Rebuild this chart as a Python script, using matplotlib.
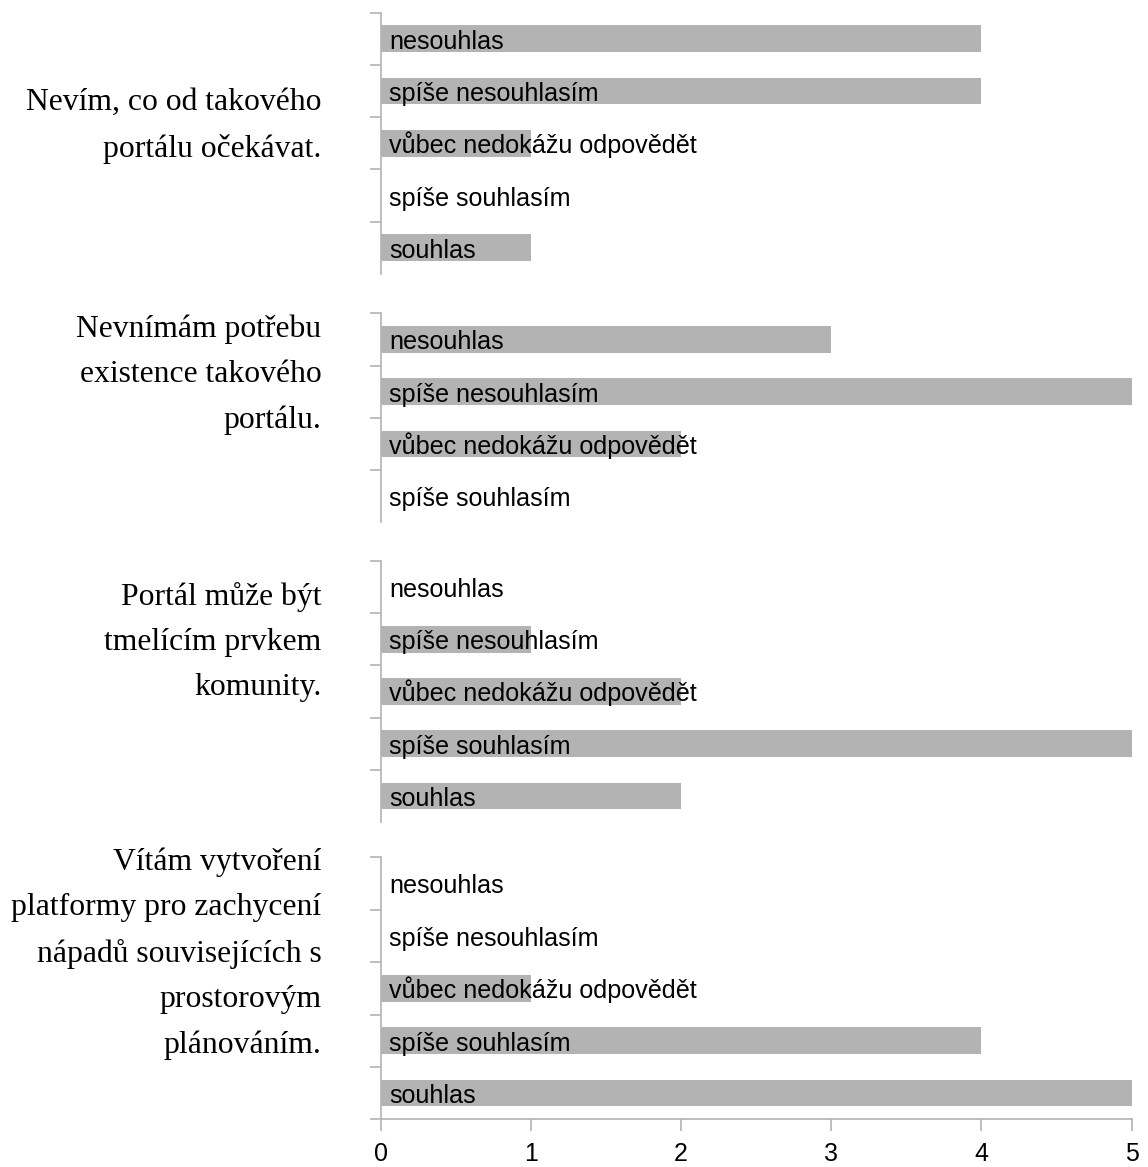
import matplotlib
matplotlib.use("Agg")
import matplotlib.pyplot as plt

# Survey responses: count of answers per statement
statements = [
    "Nevím, co od takového\nportálu očekávat.",
    "Nevnímám potřebu\nexistence takového\nportálu.",
    "Portál může být\ntmelícím prvkem\nkomunity.",
    "Vítám vytvoření\nplatformy pro zachycení\nnápadů souvisejících s\nprostorovým\nplánováním.",
]

answers_1 = ["nesouhlas", "spíše nesouhlasím", "vůbec nedokážu odpovědět",
             "spíše souhlasím", "souhlas"]
counts_1 = [4, 4, 1, 0, 1]

answers_2 = ["nesouhlas", "spíše nesouhlasím", "vůbec nedokážu odpovědět",
             "spíše souhlasím"]
counts_2 = [3, 5, 2, 0]

answers_3 = ["nesouhlas", "spíše nesouhlasím", "vůbec nedokážu odpovědět",
             "spíše souhlasím", "souhlas"]
counts_3 = [0, 1, 2, 5, 2]

answers_4 = ["nesouhlas", "spíše nesouhlasím", "vůbec nedokážu odpovědět",
             "spíše souhlasím", "souhlas"]
counts_4 = [0, 0, 1, 4, 5]

x_ticks = [0, 1, 2, 3, 4, 5]

groups = [(answers_1, counts_1), (answers_2, counts_2),
          (answers_3, counts_3), (answers_4, counts_4)]

W, H = 1148, 1167
DPI = 100
BAR = "#b3b3b3"
AXIS = "#b3b3b3"

# panel extents in pixels (top, bottom) and baseline of each label's last line
panel_px = [(12.7, 273.9), (313.3, 522.3), (561.0, 822.0), (857.3, 1119.3)]
label_last_baseline_px = [156.7, 428.0, 695.0, 1053.3]
x_left_px, x_right_px = 380.7, 1131.5
label_right_px = 321.5

fig = plt.figure(figsize=(W / DPI, H / DPI), dpi=DPI)
fig.patch.set_facecolor("white")

for gi, (answers, counts) in enumerate(groups):
    top, bottom = panel_px[gi]
    rect = [x_left_px / W, 1 - bottom / H,
            (x_right_px - x_left_px) / W, (bottom - top) / H]
    ax = fig.add_axes(rect)
    n = len(answers)
    ypos = [i + 0.5 for i in range(n)]
    ax.barh(ypos, counts, height=0.51, color=BAR, zorder=1)
    ax.set_xlim(0, 5)
    ax.set_ylim(n, 0)

    for s in ("top", "right"):
        ax.spines[s].set_visible(False)
    ax.spines["left"].set_color(AXIS)
    ax.spines["left"].set_linewidth(1.2)

    last = gi == len(groups) - 1
    ax.set_yticks(range(n + 1) if last else range(n))
    ax.set_yticklabels([])
    ax.tick_params(axis="y", direction="out", length=8, width=1.2, color=AXIS)

    if last:
        ax.spines["bottom"].set_color(AXIS)
        ax.spines["bottom"].set_linewidth(1.2)
        ax.set_xticks(x_ticks)
        ax.set_xticklabels([str(t) for t in x_ticks],
                           family="Liberation Sans", fontsize=18)
        ax.tick_params(axis="x", direction="out", length=8.6, width=1.2,
                       color=AXIS, pad=7.5)
    else:
        ax.spines["bottom"].set_visible(False)
        ax.set_xticks([])

    for y, lab in zip(ypos, answers):
        ax.annotate(lab, xy=(0, y), xytext=(6.2, -7.2),
                    textcoords="offset points", ha="left", va="baseline",
                    family="Liberation Sans", fontsize=18.1, color="black",
                    zorder=3, annotation_clip=False)

    fig.text(label_right_px / W, 1 - label_last_baseline_px[gi] / H,
             statements[gi], ha="right", va="baseline", multialignment="right",
             family="Liberation Serif", fontsize=22.8, linespacing=1.73)

fig.savefig("out.png", dpi=DPI, facecolor="white")
